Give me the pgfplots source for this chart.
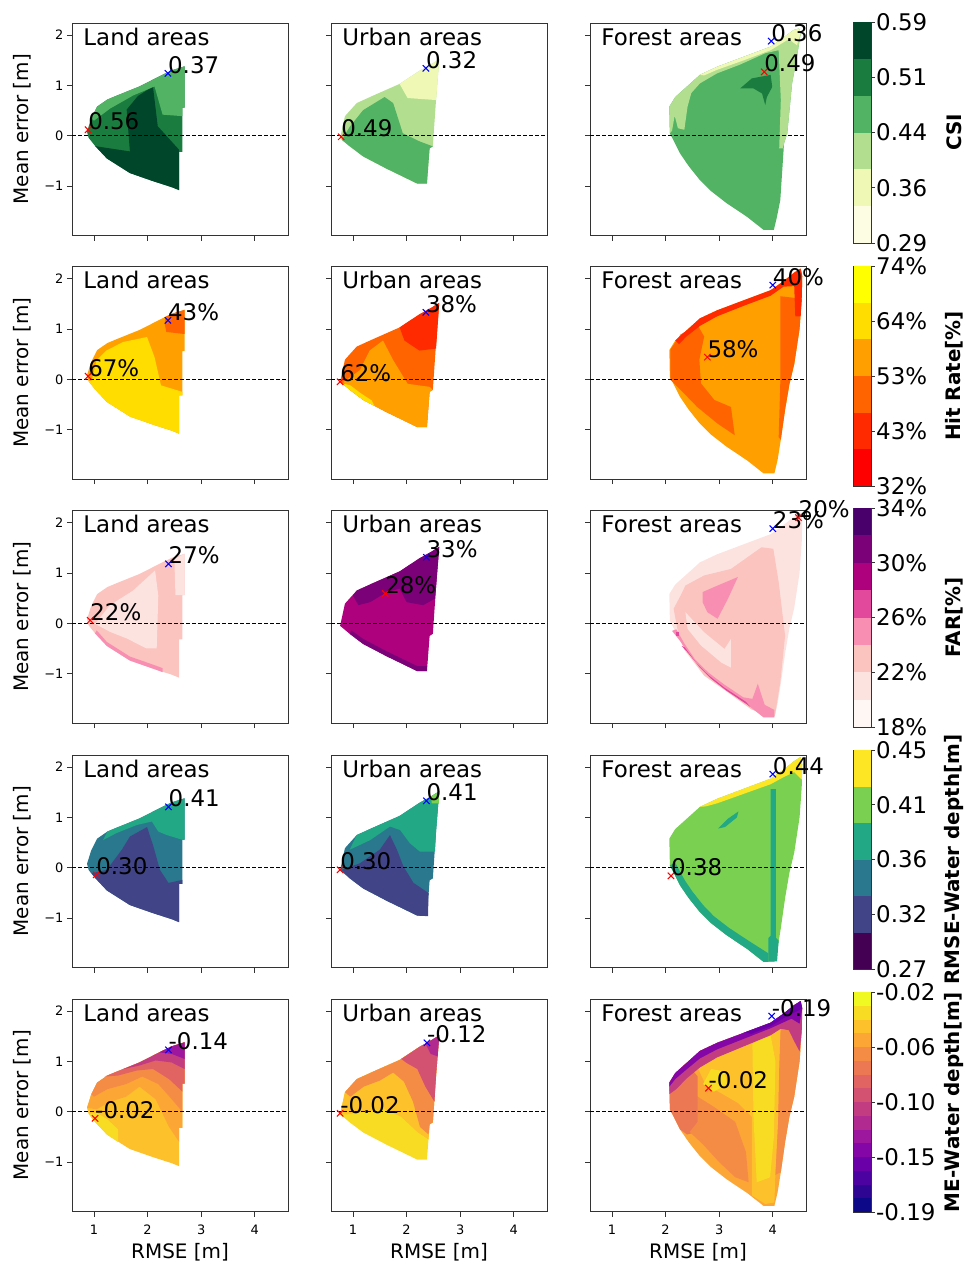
\documentclass[border=0pt]{standalone}
\usepackage{fontspec}
\setmainfont{DejaVu Sans}
\usepackage{pgfplots}
\usepackage{pgfplotstable}
\pgfplotsset{compat=1.18}

\newcommand\fA{\fontsize{23}{27}\selectfont}
\newcommand\fL{\fontsize{20}{24}\selectfont}
\newcommand\fT{\fontsize{13}{15}\selectfont}
\newcommand\fB{\fontsize{20}{24}\selectfont\bfseries}

% CSI (YlGn)
\definecolor{cs1}{HTML}{FDFDE3}\definecolor{cs2}{HTML}{EFF8B5}\definecolor{cs3}{HTML}{B2DF8F}
\definecolor{cs4}{HTML}{52B364}\definecolor{cs5}{HTML}{1B7C40}\definecolor{cs6}{HTML}{00462A}
% Hit rate (autumn)
\definecolor{h1}{HTML}{FF0000}\definecolor{h2}{HTML}{FF2A00}\definecolor{h3}{HTML}{FF6400}
\definecolor{h4}{HTML}{FFA000}\definecolor{h5}{HTML}{FFDD00}\definecolor{h6}{HTML}{FFFF00}
% FAR (RdPu)
\definecolor{far1}{HTML}{FFF7F3}\definecolor{far2}{HTML}{FDE3E0}\definecolor{far3}{HTML}{FBC4BF}
\definecolor{far4}{HTML}{F88FB2}\definecolor{far5}{HTML}{E2489C}\definecolor{far6}{HTML}{AE017E}
\definecolor{far7}{HTML}{7A0177}\definecolor{far8}{HTML}{49006A}
% RMSE (viridis)
\definecolor{v1}{HTML}{440154}\definecolor{v2}{HTML}{414487}\definecolor{v3}{HTML}{2A788E}
\definecolor{v4}{HTML}{22A884}\definecolor{v5}{HTML}{7AD151}\definecolor{v6}{HTML}{FDE725}
% ME (plasma)
\definecolor{p1}{HTML}{0D0887}\definecolor{p2}{HTML}{2E0593}\definecolor{p3}{HTML}{4C02A1}
\definecolor{p4}{HTML}{6A00A8}\definecolor{p5}{HTML}{8406A7}\definecolor{p6}{HTML}{9C179E}
\definecolor{p7}{HTML}{B12A90}\definecolor{p8}{HTML}{C23C81}\definecolor{p9}{HTML}{D35171}
\definecolor{p10}{HTML}{E16462}\definecolor{p11}{HTML}{EC7853}\definecolor{p12}{HTML}{F58C46}
\definecolor{p13}{HTML}{FCA636}\definecolor{p14}{HTML}{FCC12B}\definecolor{p15}{HTML}{F8DC24}
\definecolor{p16}{HTML}{F0F921}

\pgfplotstableread{
x y
0.87 0.08
0.95 0.35
1.06 0.58
1.25 0.72
1.43 0.80
1.85 0.98
2.22 1.18
2.45 1.30
2.69 1.38
2.69 0.56
2.65 0.56
2.65 -0.32
2.59 -0.32
2.59 -1.08
2.45 -1.02
2.10 -0.90
1.67 -0.74
1.24 -0.45
1.02 -0.20
0.90 -0.04
}\landshape

\pgfplotstableread{
x y
0.76 -0.05
0.85 0.39
1.07 0.65
1.38 0.80
1.87 1.03
2.24 1.29
2.46 1.42
2.61 1.52
2.55 0.72
2.49 -0.21
2.43 -0.25
2.38 -0.95
2.20 -0.95
1.62 -0.65
1.19 -0.41
0.94 -0.21
}\urbanshape

\pgfplotstableread{
x y
2.08 0.05
2.07 0.58
2.18 0.77
2.39 0.97
2.64 1.21
2.96 1.37
3.46 1.57
3.96 1.77
4.20 1.95
4.39 2.10
4.49 2.13
4.52 2.03
4.44 1.50
4.36 1.04
4.27 0.05
4.21 -0.15
4.17 -0.80
4.14 -1.28
4.08 -1.60
4.02 -1.87
3.83 -1.87
3.52 -1.61
3.14 -1.34
2.85 -1.10
2.64 -0.88
2.43 -0.60
2.27 -0.35
}\forestA

\pgfplotstableread{
x y
2.08 0.05
2.07 0.58
2.18 0.77
2.39 0.97
2.64 1.21
2.96 1.37
3.46 1.57
3.96 1.77
4.20 1.95
4.40 2.12
4.52 2.20
4.55 2.05
4.54 1.60
4.50 1.00
4.40 0.30
4.31 -0.10
4.23 -0.60
4.15 -1.20
4.09 -1.60
4.03 -1.87
3.83 -1.87
3.52 -1.61
3.14 -1.34
2.85 -1.10
2.64 -0.88
2.43 -0.60
2.27 -0.35
}\forestB

\newcommand\shape[2]{\addplot[fill=#1,draw=none] table {#2};}
\newcommand\poly[2]{\addplot[fill=#1,draw=none] coordinates {#2};}
\newcommand\zline{\addplot[black, dash pattern=on 4bp off 2bp, line width=1bp] coordinates {(0.59,0) (4.62,0)};}
\newcommand\ttl[1]{\node[anchor=base west, inner sep=0pt, font=\fA] at (axis cs:0.8,1.8) {#1};}
\newcommand\mk[4]{\addplot[only marks, mark=x, mark size=4.5bp, color=#1, mark options={line width=1bp}] coordinates {(#2,#3)};
  \node[anchor=base west, inner sep=0pt, font=\fA] at (axis cs:#2,#3) {#4};}
\newcommand\band[3]{\addplot[fill=#1,draw=none] coordinates {(0,#2) (1,#2) (1,#3) (0,#3)};}
\newcommand\cblab[1]{\node[rotate=90, font=\fB, anchor=center, inner sep=0pt] at (rel axis cs:5.74,0.5) {#1};}

\pgfplotsset{
  panel/.style={
    scale only axis, width=216bp, height=212.5bp, anchor=south west,
    xmin=0.59, xmax=4.62, ymin=-1.98, ymax=2.24,
    xtick={1,2,3,4}, ytick={-1,0,1,2},
    xticklabels={,,,}, yticklabels={,,,},
    tick align=outside, xtick pos=bottom, ytick pos=left,
    major tick length=5bp,
    axis line style={black!80, line width=0.8bp},
    every tick/.style={black!80, line width=0.8bp},
    tick label style={font=\fT},
    xticklabel style={yshift=-5bp},
    clip=false,
  },
  ylab/.style={yticklabels={−1,0,1,2}, ylabel={Mean error [m]},
    ylabel style={font=\fL, at={(axis description cs:-0.19,0.5)}, anchor=south, inner sep=0pt}},
  xlab/.style={xticklabels={1,2,3,4}, xlabel={RMSE [m]},
    xlabel style={font=\fL, at={(axis description cs:0.5,-0.15)}, anchor=north, inner sep=0pt}},
  cbar/.style={scale only axis, width=17.5bp, anchor=south west, xmin=0, xmax=1,
    xtick=\empty, ytick pos=right, yticklabel pos=right, tick align=outside,
    major tick length=3.5bp, axis line style={black!80,line width=0.8bp},
    every tick/.style={black!80,line width=0.8bp},
    yticklabel style={font=\fA, inner sep=1.5bp}, clip=false},
}

\begin{document}
\begin{tikzpicture}
\useasboundingbox (0,0) rectangle (965bp,-1264bp);

%================ ROW 1: CSI
\begin{axis}[panel, ylab, at={(72bp,-235.5bp)}]
\shape{cs5}{\landshape}
\poly{cs6}{(1.05,-0.21) (1.67,-0.31) (1.61,0.52) (1.82,0.79) (2.10,0.98) (2.19,0.19) (2.59,-0.28) (2.59,-1.08) (2.45,-1.02) (2.10,-0.90) (1.67,-0.74) (1.24,-0.45) (1.02,-0.20)}
\poly{cs4}{(0.95,0.35) (1.06,0.58) (1.25,0.72) (1.43,0.80) (1.85,0.98) (2.22,1.18) (2.45,1.30) (2.69,1.38) (2.69,0.56) (2.65,0.56) (2.65,0.39) (2.28,0.42) (2.13,0.98) (1.73,0.80) (1.30,0.54) (1.00,0.30)}
\zline
\ttl{Land areas}
\mk{red}{0.89}{0.12}{0.56}
\mk{blue}{2.38}{1.24}{0.37}
\end{axis}

\begin{axis}[panel, at={(331bp,-235.5bp)}]
\shape{cs3}{\urbanshape}
\poly{cs4}{(0.79,-0.08) (0.94,0.18) (1.19,0.51) (1.59,0.77) (1.75,0.65) (1.93,0.05) (2.24,-0.11) (2.49,-0.21) (2.43,-0.25) (2.38,-0.95) (2.20,-0.95) (1.62,-0.65) (1.19,-0.41) (0.94,-0.21)}
\poly{cs2}{(1.87,1.03) (2.24,1.29) (2.46,1.42) (2.61,1.52) (2.55,0.71) (2.02,0.75)}
\zline
\ttl{Urban areas}
\mk{red}{0.78}{-0.02}{0.49}
\mk{blue}{2.36}{1.34}{0.32}
\end{axis}

\begin{axis}[panel, at={(590bp,-235.5bp)}]
\shape{cs4}{\forestA}
\poly{cs3}{(2.08,0.05) (2.07,0.58) (2.18,0.77) (2.39,0.97) (2.64,1.21) (2.96,1.37) (3.46,1.57) (3.96,1.77) (4.39,2.10) (4.49,2.13) (4.52,2.03) (4.44,1.50) (4.36,1.04) (4.27,0.05) (4.21,-0.15) (4.19,-0.25) (4.12,-0.25) (4.15,0.71) (4.11,1.70) (3.86,1.64) (3.38,1.41) (2.96,1.24) (2.64,1.04) (2.48,0.85) (2.41,0.58) (2.35,0.12) (2.23,0.15) (2.17,0.40) (2.12,0.10)}
\poly{cs2}{(2.64,1.21) (2.96,1.37) (3.46,1.57) (3.96,1.77) (4.39,2.10) (4.49,2.13) (4.52,2.03) (4.45,1.80) (4.30,1.92) (3.96,1.70) (3.46,1.50) (2.96,1.31) (2.72,1.20)}
\poly{cs5}{(3.39,0.94) (3.61,1.14) (3.96,1.21) (3.99,0.97) (3.89,0.77) (3.86,0.61) (3.80,0.84) (3.64,0.94)}
\zline
\ttl{Forest areas}
\mk{red}{3.84}{1.27}{0.49}
\mk{blue}{3.97}{1.88}{0.36}
\end{axis}

\begin{axis}[cbar, at={(853.5bp,-243bp)}, height=221bp, ymin=0, ymax=6,
  ytick={0,1.5,3,4.5,6}, yticklabels={0.29,0.36,0.44,0.51,0.59}]
\band{cs1}{0}{1}\band{cs2}{1}{2}\band{cs3}{2}{3}\band{cs4}{3}{4}\band{cs5}{4}{5}\band{cs6}{5}{6}
\cblab{CSI}
\end{axis}

%================ ROW 2: Hit rate
\begin{axis}[panel, ylab, at={(72bp,-479bp)}]
\shape{h4}{\landshape}
\poly{h5}{(0.96,-0.02) (1.05,0.38) (1.23,0.57) (1.54,0.74) (1.99,0.84) (2.13,0.44) (2.25,-0.12) (2.65,-0.25) (2.65,-0.32) (2.59,-0.32) (2.59,-1.08) (2.45,-1.02) (2.10,-0.90) (1.67,-0.74) (1.24,-0.45) (1.02,-0.20) (0.90,-0.04)}
\poly{h3}{(2.33,1.24) (2.45,1.30) (2.69,1.38) (2.69,0.90) (2.35,0.94) (2.32,1.10)}
\zline
\ttl{Land areas}
\mk{red}{0.89}{0.06}{67\%}
\mk{blue}{2.38}{1.17}{43\%}
\end{axis}

\begin{axis}[panel, at={(331bp,-479bp)}]
\shape{h3}{\urbanshape}
\poly{h4}{(0.82,-0.05) (1.13,0.18) (1.31,0.57) (1.56,0.77) (1.75,0.38) (2.02,-0.09) (2.43,-0.15) (2.49,-0.21) (2.43,-0.25) (2.38,-0.95) (2.20,-0.95) (1.62,-0.65) (1.19,-0.41) (0.94,-0.21)}
\poly{h2}{(1.87,1.03) (1.96,0.77) (2.24,0.57) (2.55,0.61) (2.61,1.52) (2.46,1.42) (2.24,1.29)}
\poly{h5}{(0.80,-0.08) (0.94,-0.21) (1.19,-0.41) (1.40,-0.53) (1.35,-0.42) (1.15,-0.28) (0.95,-0.12)}
\zline
\ttl{Urban areas}
\mk{red}{0.76}{-0.05}{62\%}
\mk{blue}{2.36}{1.33}{38\%}
\end{axis}

\begin{axis}[panel, at={(590bp,-479bp)}]
\shape{h4}{\forestB}
\poly{h3}{(2.09,-0.01) (2.09,0.59) (2.28,0.89) (2.59,1.09) (2.72,0.85) (2.63,0.39) (2.66,-0.08) (2.91,-0.41) (3.22,-0.55) (3.29,-1.11) (2.97,-0.88) (2.59,-0.55) (2.28,-0.21)}
\poly{h3}{(4.14,1.65) (4.54,1.60) (4.50,1.00) (4.40,0.30) (4.31,-0.10) (4.23,-0.60) (4.15,-1.20) (4.11,-1.15) (4.14,-0.08)}
\poly{h2}{(2.18,0.77) (2.39,0.97) (2.64,1.21) (2.96,1.37) (3.46,1.57) (3.96,1.77) (4.20,1.95) (4.40,2.12) (4.52,2.20) (4.55,2.05) (4.54,1.60) (4.52,1.25) (4.42,1.25) (4.40,1.85) (4.20,1.84) (3.96,1.66) (3.46,1.46) (2.96,1.25) (2.64,1.06) (2.39,0.85) (2.25,0.70)}
\zline
\ttl{Forest areas}
\mk{red}{2.78}{0.44}{58\%}
\mk{blue}{4.00}{1.87}{40\%}
\end{axis}

\begin{axis}[cbar, at={(853.5bp,-486bp)}, height=220bp, ymin=0, ymax=6,
  ytick={0,1.5,3,4.5,6}, yticklabels={32\%,43\%,53\%,64\%,74\%}]
\band{h1}{0}{1}\band{h2}{1}{2}\band{h3}{2}{3}\band{h4}{3}{4}\band{h5}{4}{5}\band{h6}{5}{6}
\cblab{Hit Rate[\%]}
\end{axis}

%================ ROW 3: FAR
\begin{axis}[panel, ylab, at={(72bp,-723bp)}]
\shape{far3}{\landshape}
\poly{far2}{(1.02,-0.01) (1.30,0.36) (1.73,0.65) (2.14,1.05) (2.20,0.55) (2.17,-0.50) (1.98,-0.50) (1.61,-0.30) (1.30,-0.17)}
\poly{far2}{(2.50,1.28) (2.69,1.38) (2.69,0.56) (2.52,0.56)}
\poly{far4}{(1.02,-0.20) (1.24,-0.45) (1.67,-0.74) (2.10,-0.90) (2.28,-0.97) (2.28,-0.89) (2.10,-0.82) (1.67,-0.66) (1.24,-0.37) (1.05,-0.14)}
\zline
\ttl{Land areas}
\mk{red}{0.93}{0.06}{22\%}
\mk{blue}{2.39}{1.18}{27\%}
\end{axis}

\begin{axis}[panel, at={(331bp,-723bp)}]
\shape{far6}{\urbanshape}
\poly{far7}{(1.00,0.55) (1.07,0.65) (1.38,0.80) (1.87,1.03) (2.24,1.29) (2.46,1.42) (2.61,1.52) (2.55,0.72) (2.53,0.49) (2.31,0.36) (2.00,0.42) (1.87,0.69) (1.63,0.62) (1.32,0.42) (1.10,0.36)}
\poly{far7}{(0.94,-0.21) (1.19,-0.41) (1.62,-0.65) (2.20,-0.95) (2.38,-0.95) (2.38,-0.85) (2.20,-0.85) (1.62,-0.55) (1.19,-0.31) (0.97,-0.14)}
\zline
\ttl{Urban areas}
\mk{red}{1.60}{0.59}{28\%}
\mk{blue}{2.37}{1.31}{33\%}
\end{axis}

\begin{axis}[panel, at={(590bp,-723bp)}]
\shape{far2}{\forestB}
\poly{far3}{(2.37,0.75) (2.72,0.95) (3.22,1.08) (3.79,1.51) (4.01,1.48) (4.11,0.82) (4.23,-0.25) (4.14,-1.17) (4.04,-1.84) (3.92,-1.84) (3.60,-1.71) (3.16,-1.37) (2.72,-1.04) (2.34,-0.51) (2.22,-0.11) (2.15,0.29) (2.28,0.55)}
\poly{far2}{(2.37,0.22) (2.72,-0.18) (3.10,-0.51) (3.22,-0.31) (3.22,-0.88) (3.04,-0.78) (2.66,-0.44) (2.41,-0.11)}
\poly{far4}{(2.69,0.62) (2.97,0.75) (3.35,0.92) (3.16,0.48) (2.97,0.09) (2.78,0.22) (2.69,0.42)}
\poly{far4}{(2.12,-0.15) (2.27,-0.35) (2.43,-0.60) (2.64,-0.88) (2.85,-1.10) (3.14,-1.34) (3.52,-1.61) (3.83,-1.87) (4.03,-1.87) (4.03,-1.72) (3.85,-1.62) (3.72,-1.20) (3.62,-1.50) (3.45,-1.47) (3.10,-1.22) (2.80,-0.98) (2.55,-0.72) (2.35,-0.40) (2.20,-0.12)}
\poly{far5}{(2.30,-0.45) (2.43,-0.60) (2.64,-0.88) (2.85,-1.10) (3.14,-1.34) (3.52,-1.61) (3.58,-1.66) (3.50,-1.56) (3.10,-1.28) (2.80,-1.03) (2.58,-0.80) (2.36,-0.48)}
\poly{far5}{(2.19,-0.18) (2.25,-0.18) (2.25,-0.26) (2.19,-0.26)}
\zline
\ttl{Forest areas}
\mk{blue}{4.00}{1.88}{23\%}
\mk{red}{4.48}{2.10}{20\%}
\end{axis}

\begin{axis}[cbar, at={(853.5bp,-727bp)}, height=219bp, ymin=0, ymax=8,
  ytick={0,2,4,6,8}, yticklabels={18\%,22\%,26\%,30\%,34\%}]
\band{far1}{0}{1}\band{far2}{1}{2}\band{far3}{2}{3}\band{far4}{3}{4}
\band{far5}{4}{5}\band{far6}{5}{6}\band{far7}{6}{7}\band{far8}{7}{8}
\cblab{FAR[\%]}
\end{axis}

%================ ROW 4: RMSE water depth
\begin{axis}[panel, ylab, at={(72bp,-967.5bp)}]
\shape{v3}{\landshape}
\poly{v2}{(0.96,-0.11) (1.24,-0.04) (1.52,0.36) (1.67,0.62) (1.99,0.81) (2.11,0.42) (2.23,-0.04) (2.39,-0.30) (2.65,-0.24) (2.65,-0.32) (2.59,-0.32) (2.59,-1.08) (2.45,-1.02) (2.10,-0.90) (1.67,-0.74) (1.24,-0.45) (1.02,-0.20) (0.90,-0.04)}
\poly{v4}{(1.17,0.55) (1.25,0.72) (1.43,0.80) (1.85,0.98) (2.22,1.18) (2.45,1.30) (2.69,1.38) (2.69,0.56) (2.67,0.55) (2.36,0.65) (2.20,0.72) (2.08,0.92) (1.80,0.85) (1.42,0.69)}
\zline
\ttl{Land areas}
\mk{red}{1.04}{-0.14}{0.30}
\mk{blue}{2.39}{1.21}{0.41}
\end{axis}

\begin{axis}[panel, at={(331bp,-967.5bp)}]
\shape{v3}{\urbanshape}
\poly{v2}{(0.79,-0.04) (1.13,0.09) (1.50,0.36) (1.69,0.65) (1.82,0.36) (1.94,0.03) (2.13,-0.30) (2.41,-0.50) (2.40,-0.96) (2.20,-0.95) (1.62,-0.65) (1.19,-0.41) (0.94,-0.21)}
\poly{v4}{(0.94,0.36) (1.07,0.65) (1.38,0.80) (1.87,1.03) (2.24,1.29) (2.46,1.42) (2.61,1.52) (2.55,0.72) (2.53,0.32) (2.25,0.32) (2.06,0.49) (1.88,0.75) (1.69,0.82) (1.32,0.55)}
\poly{v5}{(2.46,1.42) (2.61,1.52) (2.60,1.28) (2.47,1.28)}
\zline
\ttl{Urban areas}
\mk{red}{0.76}{-0.04}{0.30}
\mk{blue}{2.37}{1.33}{0.41}
\end{axis}

\begin{axis}[panel, at={(590bp,-967.5bp)}]
\shape{v5}{\forestB}
\poly{v6}{(2.64,1.21) (2.96,1.37) (3.46,1.57) (3.96,1.77) (4.20,1.95) (4.40,2.12) (4.52,2.20) (4.55,2.05) (4.54,1.75) (4.40,1.90) (4.20,1.80) (3.96,1.66) (3.46,1.47) (2.96,1.28) (2.75,1.22)}
\poly{v4}{(2.98,0.78) (3.17,0.98) (3.36,1.12) (3.33,1.00) (3.11,0.81)}
\poly{v4}{(3.96,1.56) (4.06,1.56) (4.06,-1.39) (4.11,-1.45) (4.08,-1.86) (3.92,-1.86) (3.92,-1.39) (3.96,-1.35)}
\poly{v4}{(2.08,0.05) (2.27,-0.35) (2.43,-0.60) (2.64,-0.88) (2.85,-1.10) (3.14,-1.34) (3.52,-1.61) (3.83,-1.87) (3.92,-1.87) (3.92,-1.70) (3.55,-1.45) (3.18,-1.19) (2.90,-0.96) (2.70,-0.74) (2.50,-0.47) (2.36,-0.25) (2.18,0.10)}
\zline
\ttl{Forest areas}
\mk{red}{2.10}{-0.16}{0.38}
\mk{blue}{4.00}{1.86}{0.44}
\end{axis}

\begin{axis}[cbar, at={(853.5bp,-969bp)}, height=219bp, ymin=0, ymax=6,
  ytick={0,1.5,3,4.5,6}, yticklabels={0.27,0.32,0.36,0.41,0.45}]
\band{v1}{0}{1}\band{v2}{1}{2}\band{v3}{2}{3}\band{v4}{3}{4}\band{v5}{4}{5}\band{v6}{5}{6}
\cblab{RMSE-Water depth[m]}
\end{axis}

%================ ROW 5: ME water depth
\begin{axis}[panel, ylab, xlab, at={(72bp,-1211.5bp)}]
\shape{p14}{\landshape}
\poly{p13}{(0.87,0.08) (0.95,0.35) (1.06,0.58) (1.25,0.72) (1.43,0.80) (1.85,0.98) (2.22,1.18) (2.45,1.30) (2.69,1.38) (2.69,0.56) (2.65,0.56) (2.65,-0.32) (2.59,-0.32) (2.59,-0.60) (2.40,-0.30) (2.15,0.25) (1.85,0.50) (1.60,0.30) (1.30,0.20) (1.05,0.05)}
\poly{p12}{(0.95,0.35) (1.06,0.58) (1.25,0.72) (1.43,0.80) (1.85,0.98) (2.22,1.18) (2.45,1.30) (2.69,1.38) (2.69,0.56) (2.65,0.56) (2.65,0.00) (2.45,0.25) (2.20,0.55) (1.90,0.70) (1.60,0.55) (1.25,0.45) (1.00,0.30)}
\poly{p10}{(1.20,0.70) (1.43,0.80) (1.85,0.98) (2.22,1.18) (2.45,1.30) (2.69,1.38) (2.69,0.56) (2.65,0.56) (2.65,0.40) (2.40,0.65) (2.10,0.85) (1.80,0.82) (1.45,0.72)}
\poly{p8}{(1.55,0.85) (1.85,0.98) (2.22,1.18) (2.45,1.30) (2.69,1.38) (2.69,0.85) (2.45,0.98) (2.15,1.02) (1.85,0.92)}
\poly{p6}{(2.22,1.18) (2.45,1.30) (2.69,1.38) (2.69,1.05) (2.45,1.15)}
\poly{p15}{(0.90,-0.04) (1.02,-0.20) (1.24,-0.45) (1.45,-0.60) (1.45,-0.35) (1.25,-0.15) (1.05,-0.02)}
\zline
\ttl{Land areas}
\mk{red}{1.02}{-0.13}{-0.02}
\mk{blue}{2.39}{1.23}{-0.14}
\end{axis}

\begin{axis}[panel, xlab, at={(331bp,-1211.5bp)}]
\shape{p15}{\urbanshape}
\poly{p14}{(0.76,-0.05) (0.85,0.39) (1.07,0.65) (1.38,0.80) (1.87,1.03) (2.24,1.29) (2.46,1.42) (2.61,1.52) (2.55,0.72) (2.49,-0.21) (2.43,-0.25) (2.41,-0.55) (2.20,-0.40) (1.90,-0.10) (1.60,0.05) (1.20,0.00) (0.90,-0.05)}
\poly{p12}{(0.85,0.39) (1.07,0.65) (1.38,0.80) (1.87,1.03) (2.24,1.29) (2.46,1.42) (2.61,1.52) (2.55,0.72) (2.49,-0.21) (2.43,-0.25) (2.41,-0.45) (2.25,-0.30) (2.12,0.20) (1.95,0.60) (1.75,0.78) (1.50,0.62) (1.20,0.50) (0.95,0.30)}
\poly{p9}{(1.90,1.05) (2.24,1.29) (2.46,1.42) (2.61,1.52) (2.55,0.72) (2.52,0.20) (2.35,0.50) (2.20,0.85) (2.00,0.97)}
\poly{p7}{(2.35,1.36) (2.46,1.42) (2.61,1.52) (2.58,1.10) (2.45,1.15)}
\zline
\ttl{Urban areas}
\mk{red}{0.76}{-0.03}{-0.02}
\mk{blue}{2.38}{1.37}{-0.12}
\end{axis}

\begin{axis}[panel, xlab, at={(590bp,-1211.5bp)}]
\shape{p13}{\forestB}
\poly{p11}{(2.08,0.05) (2.07,0.58) (2.18,0.77) (2.39,0.97) (2.60,0.70) (2.60,0.30) (2.75,0.00) (2.60,-0.40) (2.40,-0.45) (2.27,-0.35)}
\poly{p12}{(2.60,0.30) (2.90,0.10) (3.30,-0.20) (3.50,-0.80) (3.55,-1.40) (3.30,-1.30) (3.00,-1.00) (2.70,-0.65) (2.45,-0.40) (2.60,-0.20)}
\poly{p14}{(2.61,0.85) (2.86,1.12) (3.23,1.32) (3.73,1.59) (4.04,1.73) (4.15,1.70) (4.12,0.85) (4.10,-0.20) (4.05,-1.20) (4.03,-1.80) (3.86,-1.83) (3.61,-1.66) (3.61,-0.10) (3.36,0.17) (2.92,0.44) (2.73,0.58)}
\poly{p15}{(3.62,1.35) (3.95,1.58) (4.05,1.00) (4.02,-0.50) (3.95,-1.30) (3.70,-1.40) (3.64,-0.10)}
\poly{p15}{(2.70,0.55) (2.85,0.85) (3.10,0.80) (3.15,0.55) (2.90,0.40)}
\poly{p12}{(4.15,1.75) (4.35,1.85) (4.54,1.60) (4.50,1.00) (4.40,0.30) (4.31,-0.10) (4.23,-0.60) (4.15,-1.20) (4.05,-1.25) (4.10,-0.20) (4.12,0.85)}
\poly{p8}{(2.07,0.35) (2.07,0.58) (2.18,0.77) (2.39,0.97) (2.64,1.21) (2.96,1.37) (3.46,1.57) (3.96,1.77) (4.20,1.95) (4.40,2.12) (4.52,2.20) (4.55,2.05) (4.54,1.60) (4.50,1.20) (4.40,1.40) (4.30,1.62) (4.15,1.65) (3.96,1.52) (3.46,1.30) (2.96,1.08) (2.64,0.88) (2.39,0.66) (2.20,0.45)}
\poly{p5}{(2.07,0.50) (2.07,0.58) (2.18,0.77) (2.39,0.97) (2.64,1.21) (2.96,1.37) (3.46,1.57) (3.96,1.77) (4.20,1.95) (4.40,2.12) (4.52,2.20) (4.55,2.05) (4.50,1.75) (4.35,1.85) (3.96,1.66) (3.46,1.45) (2.96,1.24) (2.64,1.06) (2.39,0.84) (2.18,0.65)}
\poly{p4}{(3.46,1.57) (3.96,1.77) (4.20,1.95) (4.40,2.12) (4.52,2.20) (4.55,2.05) (4.40,1.97) (4.20,1.86) (3.96,1.70) (3.60,1.55)}
\zline
\ttl{Forest areas}
\mk{red}{2.80}{0.47}{-0.02}
\mk{blue}{3.98}{1.90}{-0.19}
\end{axis}

\begin{axis}[cbar, at={(853.5bp,-1212bp)}, height=220bp, ymin=0, ymax=16,
  ytick={0,4,8,12,16}, yticklabels={-0.19,-0.15,-0.10,-0.06,-0.02}]
\band{p1}{0}{1}\band{p2}{1}{2}\band{p3}{2}{3}\band{p4}{3}{4}
\band{p5}{4}{5}\band{p6}{5}{6}\band{p7}{6}{7}\band{p8}{7}{8}
\band{p9}{8}{9}\band{p10}{9}{10}\band{p11}{10}{11}\band{p12}{11}{12}
\band{p13}{12}{13}\band{p14}{13}{14}\band{p15}{14}{15}\band{p16}{15}{16}
\cblab{ME-Water depth[m]}
\end{axis}

\end{tikzpicture}
\end{document}
